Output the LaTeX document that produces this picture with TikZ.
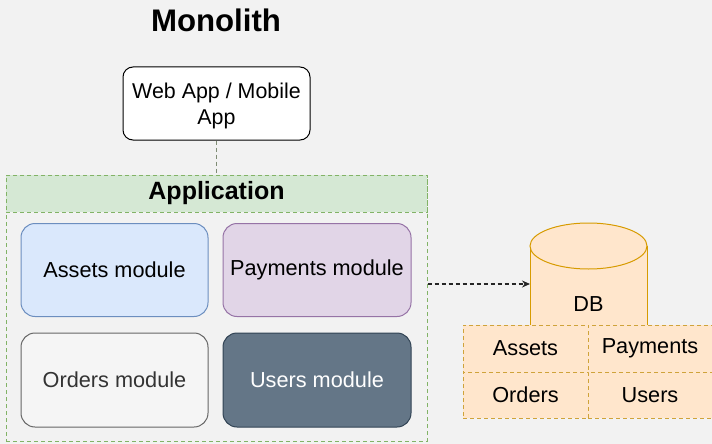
\documentclass[tikz,border=0pt]{standalone}
\usepackage{fontspec}
\setmainfont{Liberation Sans}
\usetikzlibrary{arrows.meta,calc}

\definecolor{bgcol}{HTML}{F2F2F2}
\definecolor{appfill}{HTML}{D5E8D4}
\definecolor{appline}{HTML}{82B366}
\definecolor{linkcol}{HTML}{7F8C74}
\definecolor{bluefill}{HTML}{DAE8FC}
\definecolor{blueline}{HTML}{6C8EBF}
\definecolor{purpfill}{HTML}{E1D5E7}
\definecolor{purpline}{HTML}{9673A6}
\definecolor{greyfill}{HTML}{F5F5F5}
\definecolor{greyline}{HTML}{666666}
\definecolor{greytext}{HTML}{333333}
\definecolor{slatefill}{HTML}{647687}
\definecolor{slateline}{HTML}{314354}
\definecolor{dbfill}{HTML}{FFE6CC}
\definecolor{dbline}{HTML}{D79B00}
\definecolor{cellline}{HTML}{CFA33A}

\tikzset{
  txt/.style={font=\fontsize{21.7}{26}\selectfont},
  modbox/.style={rectangle, rounded corners=14pt, line width=1pt, inner sep=0pt,
    minimum width=187pt, minimum height=93pt, txt},
  dashline/.style={dash pattern=on 4pt off 3pt, line width=1pt},
  cell/.style={rectangle, draw=cellline, fill=dbfill, dashline, inner sep=0pt, txt}
}

\begin{document}
\begin{tikzpicture}[x=1pt,y=-1pt]
  % canvas
  \fill[bgcol] (0,0) rectangle (712,444);
  \useasboundingbox (0,0) rectangle (712,444);

  % title
  \node[font=\bfseries\fontsize{31.2}{35}\selectfont] (title) at (216,20) {Monolith};

  % client
  \node[rectangle, draw=black, fill=white, rounded corners=10pt, line width=1pt,
        inner sep=0pt, minimum width=187pt, minimum height=73pt] (web) at (216.5,103.5) {};
  \node[align=center, inner sep=0pt, font=\fontsize{21.4}{26}\selectfont]
        (webtxt) at (216.5,106) {Web App / Mobile\\App};

  % application container
  \node[rectangle, draw=appline, dashline, inner sep=0pt,
        minimum width=421pt, minimum height=266pt] (app) at (216.5,308) {};
  \node[rectangle, draw=appline, fill=appfill, dashline, inner sep=0pt,
        minimum width=421pt, minimum height=37pt,
        font=\bfseries\fontsize{25}{28}\selectfont] (head) at (216.5,193.5) {Application};

  \draw[linkcol, dashline] (web.south) -- (head.north);

  % modules
  \node[modbox, draw=blueline, fill=bluefill] (assets) at (114.5,270) {Assets module};
  \node[modbox, draw=purpline, fill=purpfill, minimum width=188pt] (payments) at (317,270) {Payments module};
  \node[modbox, draw=greyline, fill=greyfill, text=greytext, minimum height=94pt] (orders) at (114.5,380) {Orders module};
  \node[modbox, draw=slateline, fill=slatefill, text=white, minimum width=188pt, minimum height=94pt] (users) at (317,380) {Users module};

  % database cylinder
  \fill[dbfill] (530,246) rectangle (647,340);
  \draw[dbline, line width=1pt] (530,246) -- (530,340) (647,246) -- (647,340);
  \draw[dbline, fill=dbfill, line width=1pt] (588.5,246) ellipse [x radius=58.5, y radius=23];
  \node[txt] (db) at (588.5,304) {DB};
  \coordinate (dbin) at (530,284);

  \draw[black!85, dash pattern=on 4pt off 3pt, line width=1.3pt, -{Stealth[length=8pt,width=7pt]}]
    (app.east |- dbin) -- (dbin);

  % tables
  \node[cell, minimum width=125pt, minimum height=47pt] (tassets) at (525.5,348.5) {Assets};
  \node[cell, minimum width=124pt, minimum height=47pt] (tpay) at (650,348.5) {Payments};
  \node[cell, minimum width=125pt, minimum height=46pt] (torders) at (525.5,395) {Orders};
  \node[cell, minimum width=124pt, minimum height=46pt] (tusers) at (650,395) {Users};
\end{tikzpicture}
\end{document}
